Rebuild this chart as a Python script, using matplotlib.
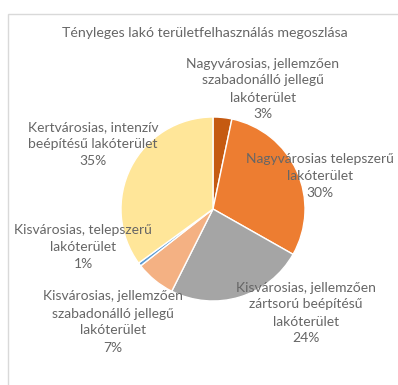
import matplotlib
matplotlib.use("Agg")
import matplotlib.pyplot as plt
from matplotlib.patches import Rectangle

title = "Tényleges lakó területfelhasználás megoszlása"
categories = [
    "Nagyvárosias, jellemzően\nszabadonálló jellegű\nlakóterület",
    "Nagyvárosias telepszerű\nlakóterület",
    "Kisvárosias, jellemzően\nzártsorú beépítésű\nlakóterület",
    "Kisvárosias, jellemzően\nszabadonálló jellegű\nlakóterület",
    "Kisvárosias, telepszerű\nlakóterület",
    "Kertvárosias, intenzív\nbeépítésű lakóterület",
]
shares = [3.3, 29.9, 24.2, 7.0, 0.6, 35.0]
colors = ["#C55A11", "#ED7D31", "#A5A5A5", "#F4B183", "#5B9BD5", "#FFE699"]

# label anchor points (pixel space, y measured from top)
label_pos = [(263, 89), (320, 176), (306, 313), (113, 322), (83, 247), (93, 144)]

W, H = 398, 385
fig = plt.figure(figsize=(W / 100, H / 100), dpi=100)
ax = fig.add_axes([0, 0, 1, 1])

ax.pie(shares, colors=colors, startangle=90, counterclock=False,
       center=(213, H - 209), radius=92,
       wedgeprops=dict(edgecolor="white", linewidth=1.0))

ax.set_xlim(0, W)
ax.set_ylim(0, H)
ax.set_aspect("equal")
ax.axis("off")

# chart area frame
ax.add_patch(Rectangle((7.5, -5), W, H - 13.5 + 5, fill=False,
                       edgecolor="#D9D9D9", linewidth=1.0, clip_on=False))

font = "Lato"
txt = "#666666"
ax.text(205, H - 33, title, ha="center", va="center", fontsize=10.2,
        color=txt, family=font)

for name, val, (px, py) in zip(categories, shares, label_pos):
    ax.text(px, H - py, f"{name}\n{round(val):.0f}%", ha="center", va="center",
            fontsize=10, color=txt, family=font, linespacing=1.5)

fig.savefig("out.png", dpi=100)
